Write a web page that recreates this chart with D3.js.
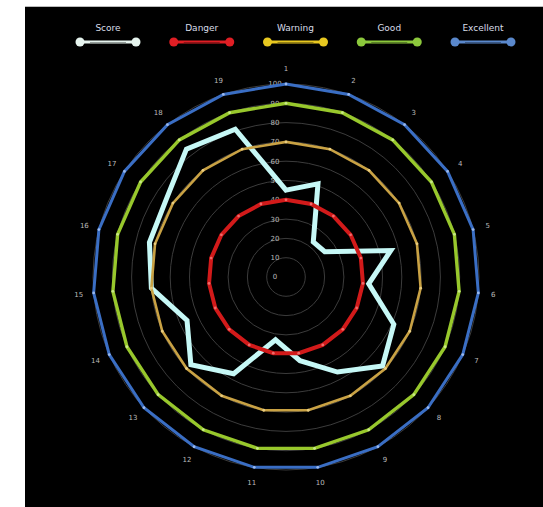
<!DOCTYPE html>
<html><head><meta charset="utf-8">
<script src="https://cdn.jsdelivr.net/npm/d3@7"></script>
<style>body{margin:0;background:#fff;} svg{display:block;}</style>
</head><body><svg id="c" width="543" height="507"></svg>
<script>
const axisNames = ["1","2","3","4","5","6","7","8","9","10","11","12","13","14","15","16","17","18","19"];
const score     = [45,51,23,24,56,43,61,68,56,44,33,57,67,56,70,73,74,84,81];
const danger    = [40,40,40,40,40,40,40,40,40,40,40,40,40,40,40,40,40,40,40];
const warning   = [70,70,70,70,70,70,70,70,70,70,70,70,70,70,70,70,70,70,70];
const good      = [90,90,90,90,90,90,90,90,90,90,90,90,90,90,90,90,90,90,90];
const excellent = [100,100,100,100,100,100,100,100,100,100,100,100,100,100,100,100,100,100,100];
const tickValues = [0,10,20,30,40,50,60,70,80,90,100];
const legendNames = ["Score","Danger","Warning","Good","Excellent"];

const styles = {
  Score:     {stroke:"#c6f8f6", width:5,   dot:"#e8ffff", legend:"#e6f4ee"},
  Danger:    {stroke:"#d21a1a", width:4,   dot:"#f06a6a", legend:"#e01e24"},
  Warning:   {stroke:"#c9a244", width:2.6, dot:"#e8cc80", legend:"#e8c820"},
  Good:      {stroke:"#98c82c", width:3.4, dot:"#c8e888", legend:"#8cc83c"},
  Excellent: {stroke:"#3a6ec4", width:3,   dot:"#9ab8ec", legend:"#5a88cc"}
};
const seriesData = {Score:score, Danger:danger, Warning:warning, Good:good, Excellent:excellent};

const svg = d3.select("#c");
svg.append("rect").attr("x",25).attr("y",6).attr("width",518).attr("height",501).attr("fill","#000");
svg.append("line").attr("x1",25).attr("x2",543).attr("y1",6.5).attr("y2",6.5).attr("stroke","#bbb").attr("stroke-width",1);

const cx = 286, cy = 277, R = 193;
const r = d3.scaleLinear().domain([0,100]).range([0,R]);
const ang = d3.scaleLinear().domain([0, axisNames.length]).range([0, 2*Math.PI]);
const g = svg.append("g").attr("transform",`translate(${cx},${cy})`);

// split circles
g.selectAll("circle.split").data(tickValues.filter(v=>v>0)).join("circle")
  .attr("class","split").attr("r",d=>r(d)).attr("fill","none")
  .attr("stroke","#3c3c3c").attr("stroke-width",1);

// tick labels
g.selectAll("text.tick").data(tickValues).join("text")
  .attr("class","tick").attr("x",-11).attr("y",d=>-r(d)).attr("dy","0.35em")
  .attr("text-anchor","middle").attr("fill","#b8b8b8")
  .style("font","7px 'DejaVu Sans', sans-serif").text(d=>d);

// axis names
g.selectAll("text.axis").data(axisNames).join("text")
  .attr("class","axis")
  .attr("x",(d,i)=>Math.sin(ang(i))*(R+15))
  .attr("y",(d,i)=>-Math.cos(ang(i))*(R+15))
  .attr("dy","0.35em").attr("text-anchor","middle").attr("fill","#bbb")
  .style("font","7px 'DejaVu Sans', sans-serif").text(d=>d);

const line = d3.lineRadial().angle((d,i)=>ang(i)).radius(d=>r(d)).curve(d3.curveLinearClosed);

legendNames.forEach(name=>{
  const s = styles[name], data = seriesData[name];
  g.append("path").datum(data).attr("d",line).attr("fill","none")
    .attr("stroke",s.stroke).attr("stroke-width",s.width).attr("stroke-linejoin","miter");
  if(name!=="Score"){
    g.selectAll(null).data(data).join("circle")
      .attr("cx",(d,i)=>Math.sin(ang(i))*r(d)).attr("cy",(d,i)=>-Math.cos(ang(i))*r(d))
      .attr("r",1.4).attr("fill",s.dot);
  }
});

// legend
const lx = d3.scalePoint().domain(legendNames).range([108,483]);
const lg = svg.append("g");
legendNames.forEach(name=>{
  const x = lx(name), s = styles[name];
  lg.append("text").attr("x",x).attr("y",31).attr("text-anchor","middle")
    .attr("fill","#d8dde8").style("font","9px 'DejaVu Sans', sans-serif").text(name);
  lg.append("line").attr("x1",x-28).attr("x2",x+28).attr("y1",42).attr("y2",42)
    .attr("stroke",s.legend).attr("stroke-width",3);
  lg.append("line").attr("x1",x-18).attr("x2",x+18).attr("y1",42.5).attr("y2",42.5)
    .attr("stroke","#000").attr("stroke-opacity",0.35).attr("stroke-width",1);
  [x-28,x+28].forEach(px=>lg.append("circle").attr("cx",px).attr("cy",42).attr("r",4.5).attr("fill",s.legend));
});
</script></body></html>
